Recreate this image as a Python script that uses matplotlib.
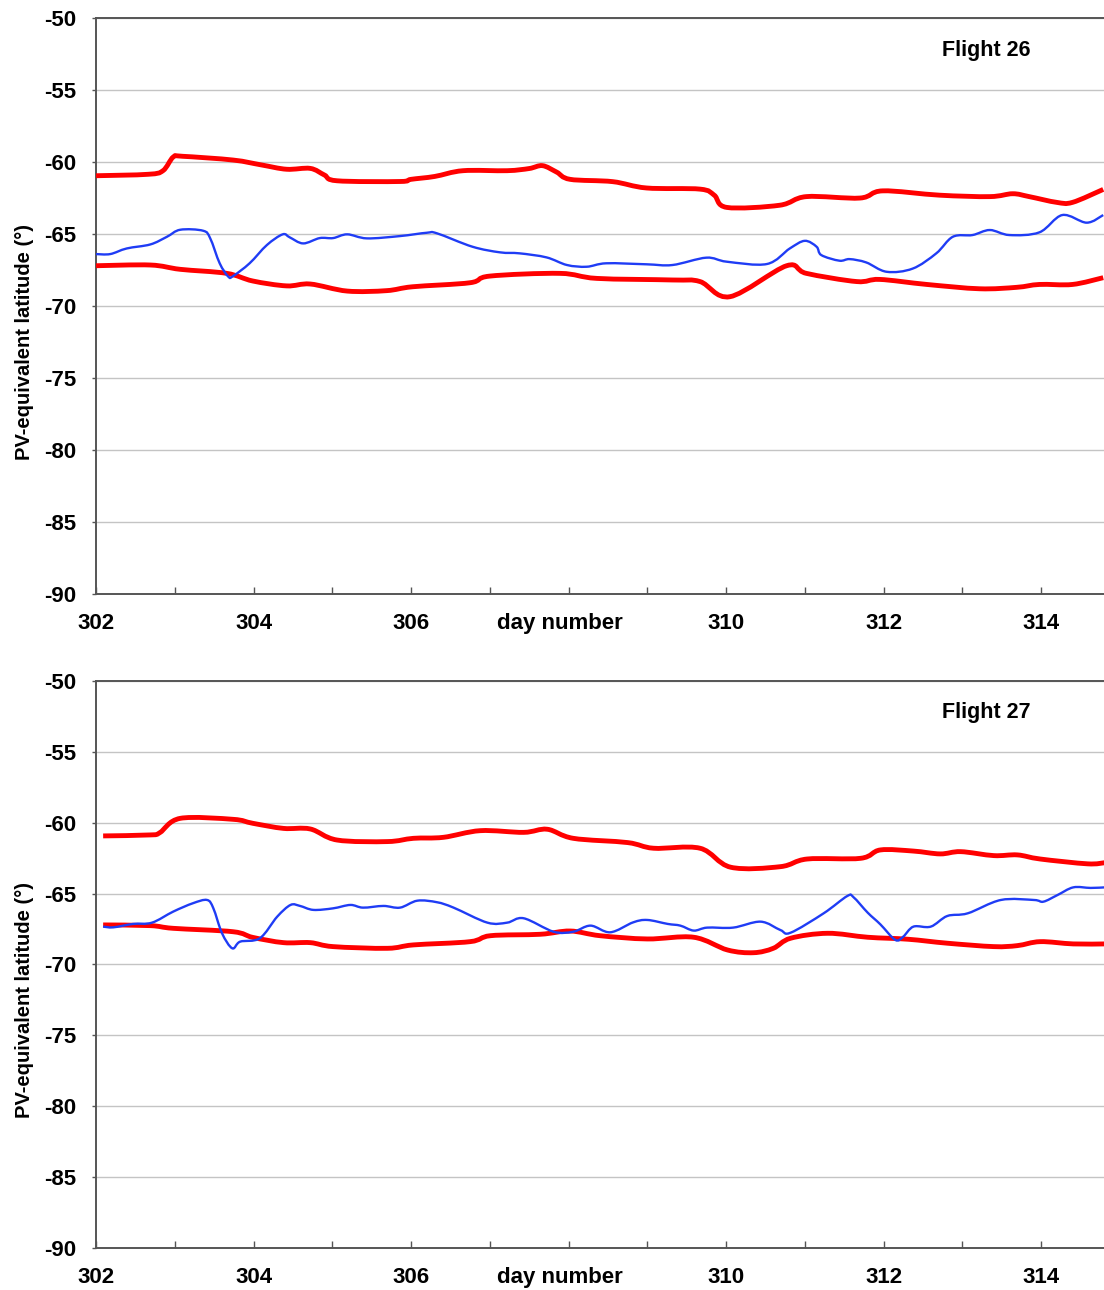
import numpy as np
import matplotlib
matplotlib.use("Agg")
import matplotlib.pyplot as plt
import matplotlib.transforms as mtransforms
from matplotlib.path import Path
from matplotlib.patches import PathPatch

plt.rcParams['font.family'] = ['Liberation Sans', 'DejaVu Sans']
plt.rcParams['font.weight'] = 'bold'

# Flight 26: vortex edge bounds (red) and balloon track (blue)
f26_edge_hi_day = [302.0, 302.66, 302.85, 302.98, 303.1, 303.74, 304.1, 304.42, 304.72, 304.9,
                   305.06, 305.86, 306.0, 306.3, 306.66, 307.22, 307.5, 307.67, 307.85, 308.02,
                   308.56, 308.99, 309.67, 309.85, 310.01, 310.68, 311.02, 311.70, 311.99, 312.71,
                   313.35, 313.64, 313.85, 314.2, 314.4, 314.79]
f26_edge_hi_lat = [-60.95, -60.85, -60.6, -59.65, -59.6, -59.86, -60.2, -60.5, -60.44, -60.9,
                   -61.3, -61.35, -61.2, -61.0, -60.6, -60.6, -60.45, -60.25, -60.7, -61.2,
                   -61.36, -61.8, -61.88, -62.3, -63.15, -63.0, -62.4, -62.5, -62.0, -62.3,
                   -62.4, -62.2, -62.4, -62.8, -62.8, -61.9]

f26_edge_lo_day = [302.0, 302.69, 303.07, 303.66, 303.99, 304.42, 304.72, 305.19, 305.69, 306.02,
                   306.75, 307.0, 307.89, 308.36, 309.32, 309.67, 310.05, 310.77, 311.02, 311.66,
                   311.95, 312.55, 313.22, 313.69, 313.98, 314.40, 314.79]
f26_edge_lo_lat = [-67.2, -67.15, -67.45, -67.73, -68.26, -68.6, -68.47, -68.96, -68.93, -68.66,
                   -68.38, -67.92, -67.73, -68.08, -68.19, -68.3, -69.35, -67.2, -67.73, -68.3,
                   -68.15, -68.5, -68.8, -68.7, -68.5, -68.5, -68.03]

f26_track_day = [302.0, 302.18, 302.39, 302.69, 302.90, 303.07, 303.36, 303.45, 303.57, 303.68,
                 303.74, 303.95, 304.17, 304.37, 304.46, 304.63, 304.84, 305.01, 305.19, 305.44,
                 305.86, 306.20, 306.33, 306.78, 307.13, 307.38, 307.72, 307.98, 308.23, 308.48,
                 308.99, 309.32, 309.75, 310.01, 310.52, 310.81, 311.0, 311.15, 311.21, 311.44,
                 311.57, 311.78, 312.04, 312.37, 312.67, 312.88, 313.13, 313.35, 313.60, 313.98,
                 314.27, 314.58, 314.79]
f26_track_lat = [-66.39, -66.39, -66.0, -65.72, -65.19, -64.7, -64.77, -65.3, -67.03, -67.96,
                 -67.92, -67.03, -65.76, -65.02, -65.23, -65.65, -65.28, -65.28, -65.02, -65.3,
                 -65.14, -64.91, -64.95, -65.88, -66.27, -66.34, -66.62, -67.15, -67.27, -67.03,
                 -67.1, -67.15, -66.64, -66.92, -67.08, -66.0, -65.47, -65.88, -66.46, -66.85,
                 -66.74, -66.97, -67.62, -67.4, -66.34, -65.19, -65.07, -64.72, -65.07, -64.88,
                 -63.68, -64.21, -63.68]

# Flight 27
f27_edge_hi_day = [302.09, 302.69, 302.81, 303.07, 303.74, 303.99, 304.38, 304.72, 305.06, 305.70,
                   306.03, 306.41, 306.88, 307.43, 307.73, 308.06, 308.75, 309.08, 309.67, 310.06,
                   310.69, 311.03, 311.71, 311.96, 312.38, 312.72, 312.98, 313.40, 313.70, 313.99,
                   314.59, 314.81]
f27_edge_hi_lat = [-60.93, -60.86, -60.7, -59.69, -59.76, -60.04, -60.4, -60.44, -61.22, -61.33,
                   -61.1, -61.03, -60.56, -60.68, -60.46, -61.1, -61.4, -61.8, -61.8, -63.14,
                   -63.1, -62.56, -62.51, -61.92, -62.0, -62.2, -62.04, -62.32, -62.27, -62.56,
                   -62.9, -62.82]

f27_edge_lo_day = [302.09, 302.69, 302.98, 303.74, 303.99, 304.38, 304.72, 305.01, 305.70, 306.03,
                   306.75, 307.01, 307.64, 308.02, 308.40, 309.0, 309.59, 310.02, 310.35, 310.60,
                   310.82, 311.29, 311.80, 312.31, 312.81, 313.40, 313.70, 313.99, 314.41, 314.81]
f27_edge_lo_lat = [-67.21, -67.26, -67.45, -67.69, -68.09, -68.46, -68.46, -68.74, -68.86, -68.62,
                   -68.39, -67.97, -67.87, -67.64, -67.97, -68.2, -68.08, -68.98, -69.17, -68.86,
                   -68.15, -67.8, -68.08, -68.22, -68.5, -68.74, -68.67, -68.39, -68.55, -68.55]

f27_track_day = [302.09, 302.22, 302.47, 302.71, 302.98, 303.23, 303.41, 303.49, 303.60, 303.73,
                 303.83, 304.08, 304.30, 304.47, 304.59, 304.76, 305.01, 305.23, 305.39, 305.65,
                 305.86, 306.08, 306.33, 306.54, 306.97, 307.22, 307.43, 307.81, 308.06, 308.28,
                 308.53, 308.82, 309.0, 309.26, 309.42, 309.59, 309.76, 310.09, 310.44, 310.69,
                 310.82, 311.24, 311.54, 311.62, 311.80, 311.96, 312.15, 312.25, 312.38, 312.60,
                 312.81, 313.07, 313.49, 313.91, 314.03, 314.21, 314.41, 314.63, 314.81]
f27_track_lat = [-67.33, -67.38, -67.14, -67.05, -66.27, -65.68, -65.45, -66.04, -67.8, -68.86,
                 -68.39, -68.15, -66.63, -65.8, -65.87, -66.15, -66.04, -65.8, -65.99, -65.87,
                 -65.99, -65.5, -65.61, -65.99, -67.05, -67.05, -66.74, -67.69, -67.69, -67.26,
                 -67.73, -67.03, -66.86, -67.14, -67.26, -67.61, -67.4, -67.4, -66.98, -67.57,
                 -67.76, -66.39, -65.17, -65.26, -66.35, -67.17, -68.27, -68.04, -67.33, -67.33,
                 -66.58, -66.39, -65.45, -65.45, -65.57, -65.1, -64.56, -64.6, -64.56]

day_ticks = [302, 304, 306, 308, 310, 312, 314]
day_labels = ['302', '304', '306', 'day number', '310', '312', '314']
lat_ticks = [-90, -85, -80, -75, -70, -65, -60, -55, -50]

panels = [
    ("Flight 26", f26_edge_hi_day, f26_edge_hi_lat, f26_edge_lo_day, f26_edge_lo_lat,
     f26_track_day, f26_track_lat),
    ("Flight 27", f27_edge_hi_day, f27_edge_hi_lat, f27_edge_lo_day, f27_edge_lo_lat,
     f27_track_day, f27_track_lat),
]


def smooth_line(ax, x, y, color, lw, z):
    # smoothed line through the points (Catmull-Rom as cubic Bezier segments)
    p = np.column_stack([x, y]).astype(float)
    ext = np.vstack([p[0], p, p[-1]])
    verts = [p[0]]
    codes = [Path.MOVETO]
    for i in range(len(p) - 1):
        p0, p1, p2, p3 = ext[i], ext[i + 1], ext[i + 2], ext[i + 3]
        verts += [p1 + (p2 - p0) / 6.0, p2 - (p3 - p1) / 6.0, p2]
        codes += [Path.CURVE4] * 3
    patch = PathPatch(Path(verts, codes), fill=False, edgecolor=color, lw=lw,
                      joinstyle='round', capstyle='butt', zorder=z)
    ax.add_patch(patch)


fig = plt.figure(figsize=(11.04, 12.9), dpi=100)
boxes = [[0.087, 0.5395, 0.913, 0.4465], [0.087, 0.0326, 0.913, 0.4395]]

for box, (name, hd, hl, ld, ll, td, tl) in zip(boxes, panels):
    ax = fig.add_axes(box)
    smooth_line(ax, hd, hl, '#ff0000', 3.5, 3)
    smooth_line(ax, ld, ll, '#ff0000', 3.5, 3)
    smooth_line(ax, td, tl, '#1f3cf5', 1.7, 4)

    ax.set_xlim(302, 314.8)
    ax.set_ylim(-90, -50)
    ax.set_yticks(lat_ticks)
    ax.set_yticklabels([str(v) for v in lat_ticks])
    ax.set_xticks(day_ticks)
    ax.set_xticklabels(day_labels)
    ax.set_xticks(np.arange(303, 315, 2), minor=True)
    ax.grid(axis='y', color='#c4c4c4', lw=1.0)
    ax.set_axisbelow(True)

    ax.tick_params(axis='x', which='both', direction='in', length=5, width=1,
                   color='#555555', labelsize=16, pad=14)
    ax.tick_params(axis='y', length=3, width=1, color='#555555', labelsize=16, pad=11)

    # the axis title sits in the 308 slot, nudged slightly left
    lab = ax.get_xticklabels()[3]
    lab.set_transform(lab.get_transform() +
                      mtransforms.ScaledTranslation(-0.09, 0, fig.dpi_scale_trans))

    for s in ['left', 'bottom', 'top']:
        ax.spines[s].set_color('#555555')
        ax.spines[s].set_linewidth(1.4)
    ax.spines['right'].set_visible(False)

    ax.set_ylabel('PV-equivalent latitude (°)', fontsize=14.5, fontweight='bold')
    ax.yaxis.set_label_coords(-0.062, 0.437)
    ax.text(0.883, 0.944, name, transform=ax.transAxes, ha='center', va='center',
            fontsize=15.5, fontweight='bold')

fig.savefig('out.png', dpi=100)
